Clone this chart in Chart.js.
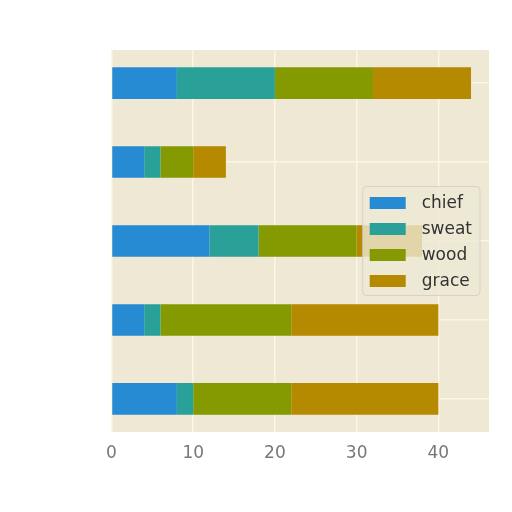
<!DOCTYPE html>
<html>
<head>
<meta charset="utf-8">
<script src="https://cdn.jsdelivr.net/npm/chart.js@4.4.1/dist/chart.umd.min.js"></script>
<style>
  html, body { margin: 0; padding: 0; background: #ffffff; }
  #wrap { width: 512px; height: 512px; }
</style>
</head>
<body>
<div id="wrap"><canvas id="chart" width="512" height="512"></canvas></div>
<script>
// categories top to bottom (labels are not legible in the source, only the last one)
const categories = ['A', 'B', 'C', 'D', 'youth'];
const chief = [8, 4, 12, 4, 8];
const sweat = [12, 2, 6, 2, 2];
const wood  = [12, 4, 12, 16, 12];
const grace = [12, 4, 8, 18, 18];
const xTicks = [0, 10, 20, 30, 40];

const seriesNames = ['chief', 'sweat', 'wood', 'grace'];
const seriesValues = [chief, sweat, wood, grace];
const seriesColors = ['#268bd2', '#2aa198', '#859900', '#b58900'];

// plot background like the solarized axes
const plotBackground = {
  id: 'plotBackground',
  beforeDraw(chart) {
    const { ctx, chartArea: a } = chart;
    ctx.save();
    ctx.fillStyle = '#eee8d5';
    ctx.fillRect(a.left, a.top, a.right - a.left, a.bottom - a.top);
    ctx.restore();
  }
};

// legend drawn inside the plot, centre right, semi transparent
const insideLegend = {
  id: 'insideLegend',
  afterDatasetsDraw(chart) {
    const { ctx, chartArea: a } = chart;
    const items = chart.data.datasets;
    const rowH = 26, patchW = 36, patchH = 12;
    ctx.save();
    ctx.font = '17px "DejaVu Sans"';
    const textW = Math.max(...items.map(d => ctx.measureText(d.label).width));
    const w = 7 + patchW + 16 + textW + 8;
    const h = items.length * rowH + 5;
    const x = a.right - 9 - w;
    const y = (a.top + a.bottom) / 2 - h / 2;

    ctx.beginPath();
    ctx.roundRect(x, y, w, h, 4);
    ctx.fillStyle = 'rgba(238,232,213,0.8)';
    ctx.fill();
    ctx.strokeStyle = 'rgba(204,204,204,0.8)';
    ctx.lineWidth = 1;
    ctx.stroke();

    items.forEach((d, i) => {
      const cy = y + 16.5 + i * rowH;
      ctx.fillStyle = d.backgroundColor;
      ctx.fillRect(x + 7, cy - patchH / 2, patchW, patchH);
      ctx.fillStyle = '#333333';
      ctx.textBaseline = 'middle';
      ctx.fillText(d.label, x + 7 + patchW + 16, cy + 1);
    });
    ctx.restore();
  }
};

const datasets = seriesNames.map((name, k) => ({
  label: name,
  data: seriesValues[k].map((v, i) => ({ x: v, y: i })),
  backgroundColor: seriesColors[k],
  borderWidth: 0,
  barPercentage: 0.4,
  categoryPercentage: 1
}));

new Chart(document.getElementById('chart'), {
  type: 'bar',
  data: { labels: categories, datasets },
  options: {
    indexAxis: 'y',
    responsive: false,
    animation: false,
    devicePixelRatio: 1,
    layout: { padding: { top: 50, right: 23, left: 0, bottom: 0 } },
    plugins: {
      legend: { display: false },
      tooltip: { enabled: false }
    },
    scales: {
      x: {
        type: 'linear',
        stacked: true,
        min: 0,
        max: 46.2,
        afterBuildTicks: s => { s.ticks = xTicks.map(v => ({ value: v })); },
        afterFit: s => { s.height = 80; },
        border: { display: false },
        grid: { color: '#fdf6e3', lineWidth: 1.5, drawTicks: false },
        ticks: {
          padding: 11,
          color: '#777777',
          font: { family: 'DejaVu Sans', size: 17 }
        }
      },
      y: {
        type: 'linear',
        stacked: true,
        reverse: true,
        offset: false,
        min: -0.42,
        max: 4.42,
        afterBuildTicks: s => { s.ticks = categories.map((c, i) => ({ value: i })); },
        afterFit: s => { s.width = 111.5; },
        border: { display: false },
        grid: { color: '#fdf6e3', lineWidth: 1.5, drawTicks: false, offset: false },
        ticks: { display: false }
      }
    }
  },
  plugins: [plotBackground, insideLegend]
});
</script>
</body>
</html>
